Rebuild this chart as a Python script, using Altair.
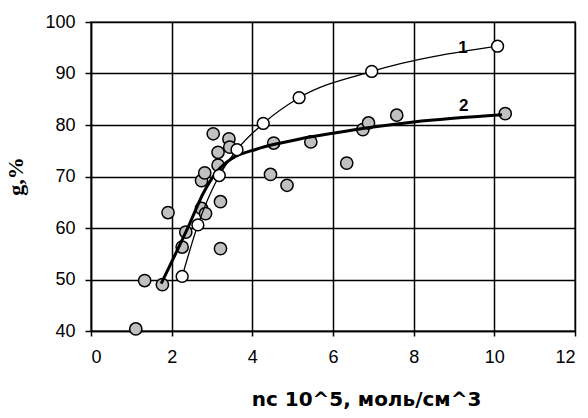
import altair as alt
import pandas as pd

# Series 1 (open circles) and its smooth line
s1_x = [2.26, 2.65, 3.18, 3.62, 4.27, 5.16, 6.96, 10.08]
s1_y = [50.6, 60.6, 70.2, 75.2, 80.3, 85.3, 90.4, 95.3]

# Series 2 (grey circles)
s2_x = [1.11, 1.33, 1.77, 1.91, 2.26, 2.35, 2.74, 2.84, 3.21, 3.21, 2.74, 2.82,
        3.15, 3.15, 3.03, 3.42, 3.44, 4.45, 4.86, 4.53, 5.45, 6.34, 6.74, 6.88,
        7.58, 10.27]
s2_y = [40.4, 49.8, 49.0, 63.0, 56.3, 59.2, 63.8, 62.8, 65.1, 56.0, 69.2, 70.7,
        72.2, 74.7, 78.3, 77.3, 75.7, 70.4, 68.3, 76.5, 76.7, 72.6, 79.1, 80.4,
        81.9, 82.2]

# Trend curve of series 2
c2_x = [1.74, 2.45, 2.78, 3.15, 3.52, 4.10, 4.52, 5.18, 6.00, 7.00, 8.00, 10.19]
c2_y = [49.2, 60.9, 66.7, 71.2, 73.6, 75.3, 76.2, 77.3, 78.4, 79.6, 80.6, 82.0]

# Curve labels
lab_text = ["1", "2"]
lab_x = [9.22, 9.24]
lab_y = [94.9, 83.7]

x_title = "nc 10^5, моль/см^3"
y_title = "g,%"

s1 = pd.DataFrame({"x": s1_x, "y": s1_y})
s2 = pd.DataFrame({"x": s2_x, "y": s2_y})
c2 = pd.DataFrame({"x": c2_x, "y": c2_y})
labs = pd.DataFrame({"t": lab_text, "x": lab_x, "y": lab_y})

xs = alt.Scale(domain=[0, 12], nice=False)
ys = alt.Scale(domain=[40, 100], nice=False)

xax = alt.Axis(values=[0, 2, 4, 6, 8, 10, 12], title=x_title, grid=True,
               titleX=275, titleY=68, titleAlign="center", titleBaseline="middle",
               titleFont="DejaVu Sans", titleFontSize=20, titleFontWeight="bold",
               labelPadding=12, tickSize=5)
yax = alt.Axis(values=[40, 50, 60, 70, 80, 90, 100], title=y_title, grid=True,
               titleX=-76, titleY=154, titleAlign="center", titleBaseline="middle",
               titleAngle=-90,
               titleFont="Liberation Serif", titleFontSize=22, titleFontWeight="bold",
               labelPadding=10, tickSize=6)

X = alt.X("x:Q", scale=xs, axis=xax)
Y = alt.Y("y:Q", scale=ys, axis=yax)

grey_pts = alt.Chart(s2).mark_point(
    shape="circle", filled=True, fill="#c0c0c0", stroke="black",
    strokeWidth=1.5, size=150, opacity=1
).encode(x=X, y=Y)

line2 = alt.Chart(c2).mark_line(
    color="black", strokeWidth=3, interpolate="monotone"
).encode(x=X, y=Y)

line1 = alt.Chart(s1).mark_line(
    color="black", strokeWidth=1.3, interpolate="monotone"
).encode(x=X, y=Y)

open_pts = alt.Chart(s1).mark_point(
    shape="circle", filled=True, fill="white", stroke="black",
    strokeWidth=1.5, size=140, opacity=1
).encode(x=X, y=Y)

labels = alt.Chart(labs).mark_text(
    font="Liberation Sans", fontSize=17, fontWeight="bold", color="black",
    align="center", baseline="middle"
).encode(x=X, y=Y, text="t:N")

chart = alt.layer(grey_pts, line2, line1, open_pts, labels).properties(
    width=484, height=309,
    autosize=alt.AutoSizeParams(type="none"),
    padding={"left": 91, "top": 22, "right": 13, "bottom": 87},
    background="white",
).configure_view(
    stroke="#808080", strokeWidth=2
).configure_axis(
    gridColor="black", gridWidth=1.5, gridOpacity=1,
    domainColor="black", domainWidth=1.5,
    tickColor="black", tickWidth=1.5,
    labelFont="Liberation Sans", labelFontSize=18, labelColor="black",
    titleColor="black",
)

chart.save("out.html", embed_options={"renderer": "svg", "actions": False})
